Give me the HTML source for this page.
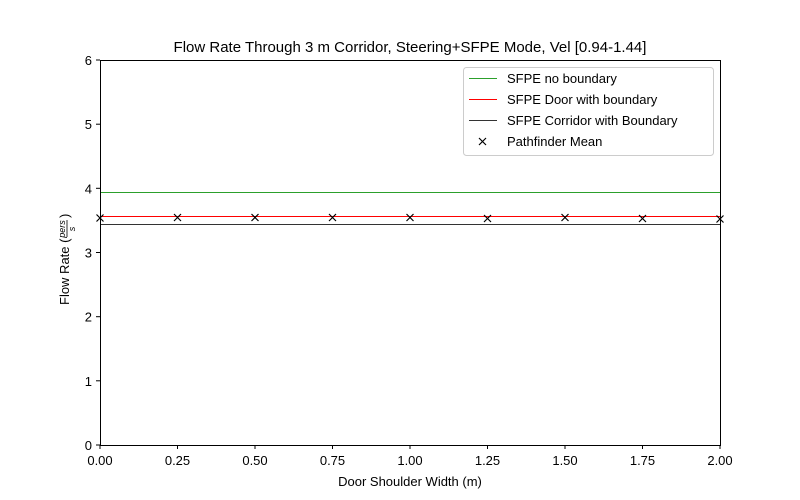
<!DOCTYPE html>
<html><head><meta charset="utf-8"><style>
body{margin:0;background:#fff}
svg{display:block;font-family:"Liberation Sans","DejaVu Sans",sans-serif}
</style></head><body>
<svg width="800" height="500" xmlns="http://www.w3.org/2000/svg">
<rect width="800" height="500" fill="#fff"/>
<text x="410" y="52" font-size="15" text-anchor="middle">Flow Rate Through 3 m Corridor, Steering+SFPE Mode, Vel [0.94-1.44]</text>
<g stroke="#000" stroke-width="1">
<line x1="100" y1="445" x2="100" y2="449"/><line x1="177.5" y1="445" x2="177.5" y2="449"/><line x1="255" y1="445" x2="255" y2="449"/><line x1="332.5" y1="445" x2="332.5" y2="449"/><line x1="410" y1="445" x2="410" y2="449"/><line x1="487.5" y1="445" x2="487.5" y2="449"/><line x1="565" y1="445" x2="565" y2="449"/><line x1="642.5" y1="445" x2="642.5" y2="449"/><line x1="720" y1="445" x2="720" y2="449"/>
<line x1="96" y1="445" x2="100" y2="445"/><line x1="96" y1="380.8" x2="100" y2="380.8"/><line x1="96" y1="316.7" x2="100" y2="316.7"/><line x1="96" y1="252.5" x2="100" y2="252.5"/><line x1="96" y1="188.3" x2="100" y2="188.3"/><line x1="96" y1="124.2" x2="100" y2="124.2"/><line x1="96" y1="60" x2="100" y2="60"/>
</g>
<g font-size="13" text-anchor="middle">
<text x="100" y="465">0.00</text><text x="177.5" y="465">0.25</text><text x="255" y="465">0.50</text><text x="332.5" y="465">0.75</text><text x="410" y="465">1.00</text><text x="487.5" y="465">1.25</text><text x="565" y="465">1.50</text><text x="642.5" y="465">1.75</text><text x="720" y="465">2.00</text>
<text x="410" y="486">Door Shoulder Width (m)</text>
</g>
<g font-size="13" text-anchor="end">
<text x="92" y="450">0</text><text x="92" y="385.8">1</text><text x="92" y="321.7">2</text><text x="92" y="257.5">3</text><text x="92" y="193.3">4</text><text x="92" y="129.2">5</text><text x="92" y="65">6</text>
</g>
<g transform="translate(69,252) rotate(-90)">
<text x="-53" y="0" font-size="13">Flow Rate (</text>
<text x="23" y="-4" font-size="9" font-style="italic" text-anchor="middle">pers</text>
<line x1="15" y1="-2" x2="32" y2="-2" stroke="#000" stroke-width="0.8"/>
<text x="23" y="6" font-size="9" font-style="italic" text-anchor="middle">s</text>
<text x="34" y="0" font-size="13">)</text>
</g>
<line x1="100" y1="192.5" x2="720" y2="192.5" stroke="#2ca02c" stroke-width="1"/>
<line x1="100" y1="216.5" x2="720" y2="216.5" stroke="#ff0000" stroke-width="1"/>
<line x1="100" y1="224.5" x2="720" y2="224.5" stroke="#333" stroke-width="1"/>
<g stroke="#000" stroke-width="1.2">
<path d="M96.5 214.5l7 7M103.5 214.5l-7 7"/><path d="M174 214l7 7M181 214l-7 7"/><path d="M251.5 214l7 7M258.5 214l-7 7"/><path d="M329 214l7 7M336 214l-7 7"/><path d="M406.5 214l7 7M413.5 214l-7 7"/><path d="M484 215l7 7M491 215l-7 7"/><path d="M561.5 214l7 7M568.5 214l-7 7"/><path d="M639 215l7 7M646 215l-7 7"/><path d="M716.5 215.5l7 7M723.5 215.5l-7 7"/>
</g>
<rect x="100.5" y="60.5" width="620" height="385" fill="none" stroke="#000" stroke-width="1"/>
<rect x="463.5" y="67.5" width="250" height="88" fill="#fff" stroke="#ccc" stroke-width="1" rx="3"/>
<line x1="469" y1="78.5" x2="497" y2="78.5" stroke="#2ca02c" stroke-width="1"/>
<line x1="469" y1="99.5" x2="497" y2="99.5" stroke="#ff0000" stroke-width="1"/>
<line x1="469" y1="120.5" x2="497" y2="120.5" stroke="#333" stroke-width="1"/>
<path d="M479 138l7 7M486 138l-7 7" stroke="#000" stroke-width="1.2"/>
<g font-size="13"><text x="507" y="83">SFPE no boundary</text><text x="507" y="104">SFPE Door with boundary</text><text x="507" y="125">SFPE Corridor with Boundary</text><text x="507" y="146">Pathfinder Mean</text></g>
</svg>
</body></html>
